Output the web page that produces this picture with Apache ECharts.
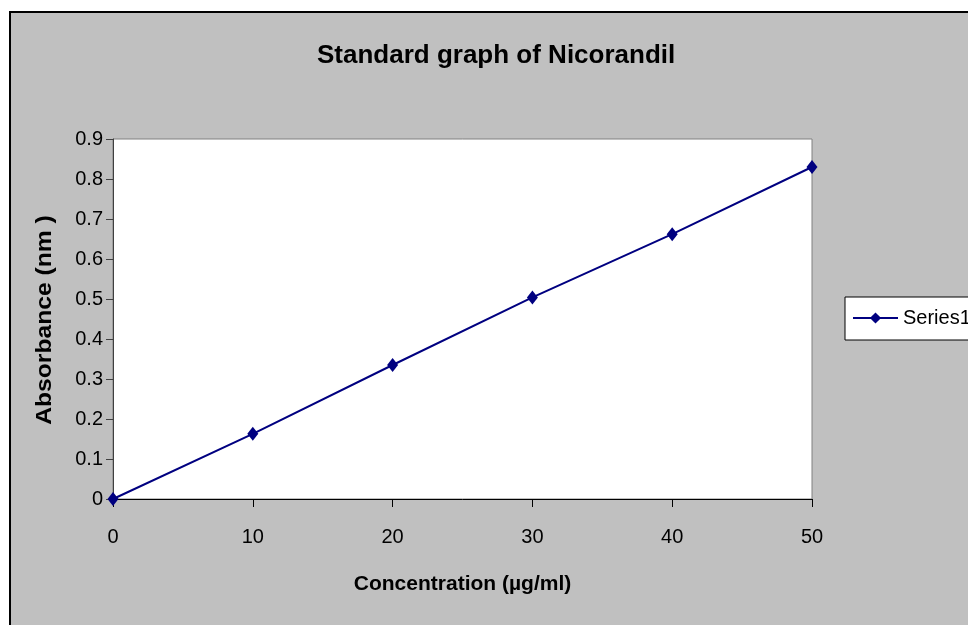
<!DOCTYPE html>
<html>
<head>
<meta charset="utf-8">
<script src="https://cdn.jsdelivr.net/npm/echarts@6/dist/echarts.min.js"></script>
<style>
  html, body { margin: 0; padding: 0; background: #ffffff; }
  #chart { width: 968px; height: 625px; }
</style>
</head>
<body>
<div id="chart"></div>
<script>
// Calibration data for Nicorandil (absorbance vs concentration)
const concentrations = [0, 10, 20, 30, 40, 50];
const absorbance = [0, 0.163, 0.335, 0.504, 0.662, 0.830];
const seriesName = 'Series1';
const chartTitle = 'Standard graph of Nicorandil';
const xTitle = 'Concentration (µg/ml)';
const yTitle = 'Absorbance (nm )';

const sans = "'Liberation Sans', Arial, sans-serif";

const chart = echarts.init(document.getElementById('chart'), null, { renderer: 'canvas' });

chart.setOption({
  animation: false,
  backgroundColor: '#ffffff',
  title: {
    text: chartTitle,
    left: 317,
    top: 43,
    padding: 0,
    textStyle: { fontFamily: sans, fontWeight: 'bold', fontSize: 26, color: '#000000' }
  },
  graphic: [
    {
      // grey chart area with its black frame
      type: 'rect',
      z: -10,
      shape: { x: 10, y: 12, width: 1000, height: 700 },
      style: { fill: '#c0c0c0', stroke: '#000000', lineWidth: 2 },
      silent: true
    },
    {
      // vertical axis title, read bottom to top
      type: 'text',
      x: 45,
      y: 320,
      rotation: Math.PI / 2,
      scaleX: 1.12,
      style: {
        text: yTitle,
        font: "bold 22px 'Liberation Sans', Arial, sans-serif",
        fill: '#000000',
        textAlign: 'center',
        textVerticalAlign: 'middle'
      },
      silent: true
    }
  ],
  legend: {
    data: [seriesName],
    left: 845,
    top: 297,
    orient: 'vertical',
    backgroundColor: '#ffffff',
    borderColor: '#000000',
    borderWidth: 1,
    borderRadius: 0,
    padding: [11, 30, 12, 7],
    itemWidth: 45,
    itemHeight: 14,
    textStyle: { fontFamily: sans, fontSize: 20, color: '#000000' }
  },
  grid: {
    left: 113,
    top: 139,
    right: 156,
    bottom: 126,
    show: true,
    backgroundColor: '#ffffff',
    borderColor: '#808080',
    borderWidth: 1
  },
  xAxis: {
    type: 'value',
    min: 0,
    max: 50,
    interval: 10,
    name: xTitle,
    nameLocation: 'middle',
    nameGap: 75,
    nameTextStyle: { fontFamily: sans, fontWeight: 'bold', fontSize: 21, color: '#000000' },
    axisLine: { show: true, onZero: false, lineStyle: { color: '#000000', width: 1 } },
    axisTick: { show: true, inside: false, length: 8, lineStyle: { color: '#000000' } },
    axisLabel: { margin: 28, fontFamily: sans, fontSize: 20, color: '#000000' },
    splitLine: { show: false }
  },
  yAxis: {
    type: 'value',
    min: 0,
    max: 0.9,
    interval: 0.1,
    axisLine: { show: true, onZero: false, lineStyle: { color: '#404040', width: 1 } },
    axisTick: { show: true, inside: false, length: 7, lineStyle: { color: '#404040' } },
    axisLabel: {
      margin: 10,
      fontFamily: sans,
      fontSize: 20,
      color: '#000000',
      formatter: function (v) { return String(Math.round(v * 10) / 10); }
    },
    splitLine: { show: false }
  },
  series: [
    {
      name: seriesName,
      type: 'line',
      data: concentrations.map(function (c, i) { return [c, absorbance[i]]; }),
      symbol: 'diamond',
      symbolSize: [11, 14],
      showAllSymbol: true,
      clip: false,
      lineStyle: { color: '#000080', width: 2 },
      itemStyle: { color: '#000080', borderWidth: 0 }
    }
  ]
});
</script>
</body>
</html>
